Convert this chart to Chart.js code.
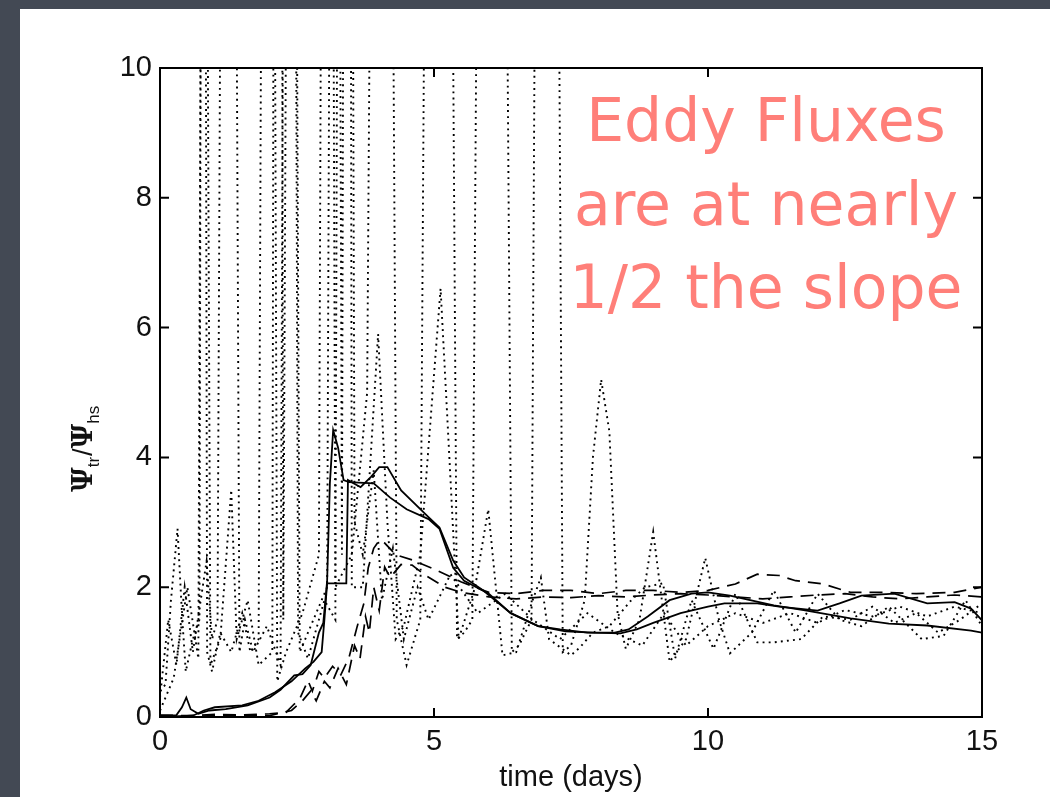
<!DOCTYPE html>
<html>
<head>
<meta charset="utf-8">
<script src="https://cdn.jsdelivr.net/npm/chart.js@4/dist/chart.umd.min.js"></script>
<style>
  html, body { margin: 0; padding: 0; }
  body { width: 1050px; height: 797px; background: #434954; position: relative; overflow: hidden; }
  #panel { position: absolute; left: 20px; top: 9px; width: 1030px; height: 788px; background: #ffffff; }
  #c { position: absolute; left: 0; top: 0; }
</style>
</head>
<body>
<div id="panel"></div>
<canvas id="c" width="1050" height="797"></canvas>
<script>
// ---- tick labels ----
const xTicks = [0, 5, 10, 15];
const yTicks = [0, 2, 4, 6, 8, 10];
const xTitle = 'time (days)';
const noteLines = ['Eddy Fluxes', 'are at nearly', '1/2 the slope'];

// ---- solid line 1 ----
const solid1T = [0.00,0.30,0.40,0.48,0.56,0.70,0.90,1.20,1.60,2.00,2.20,2.45,2.60,2.75,2.90,2.98,3.05,3.10,3.16,3.25,3.35,3.45,3.90,4.20,4.50,4.90,5.10,5.35,5.55,6.00,6.40,6.90,7.30,7.80,8.30,8.55,8.90,9.30,9.70,10.00,10.40,11.20,11.80,12.60,13.30,14.00,14.80,15.00];
const solid1V = [0.02,0.03,0.15,0.30,0.12,0.05,0.10,0.12,0.18,0.30,0.42,0.64,0.66,0.80,1.30,1.45,2.10,3.60,4.42,4.15,3.65,3.62,3.60,3.38,3.20,3.05,2.90,2.30,2.10,1.90,1.60,1.40,1.35,1.30,1.30,1.35,1.55,1.80,1.90,1.92,1.87,1.72,1.64,1.52,1.44,1.41,1.33,1.30];

// ---- solid line 2 ----
const solid2T = [0.00,0.60,0.80,1.00,1.50,1.80,2.10,2.40,2.65,2.80,2.95,3.00,3.05,3.40,3.43,3.66,3.85,4.00,4.15,4.40,4.90,5.10,5.35,5.55,5.90,6.40,6.90,7.40,7.90,8.40,8.70,9.00,9.50,10.00,10.30,10.90,11.30,12.00,12.40,12.80,13.40,14.00,14.50,14.80,15.00];
const solid2V = [0.00,0.02,0.10,0.15,0.18,0.25,0.38,0.55,0.75,0.85,1.00,1.50,2.06,2.06,3.65,3.54,3.70,3.85,3.85,3.49,3.08,2.92,2.41,2.15,1.95,1.60,1.40,1.32,1.30,1.29,1.35,1.45,1.60,1.70,1.75,1.75,1.70,1.64,1.75,1.87,1.90,1.75,1.77,1.67,1.49];

// ---- dashed line 1 ----
const dash1T = [0.00,0.50,1.00,1.50,2.00,2.30,2.45,2.55,2.70,2.78,2.90,3.00,3.15,3.30,3.45,3.60,3.72,3.80,3.90,4.00,4.10,4.30,4.60,5.00,5.50,6.00,6.50,7.00,7.50,8.00,8.50,9.00,9.50,10.00,10.50,10.90,11.30,11.60,12.10,12.60,13.20,13.80,14.50,15.00];
const dash1V = [0.03,0.02,0.04,0.03,0.05,0.07,0.20,0.28,0.56,0.40,0.70,0.60,0.78,0.65,0.92,1.40,1.75,2.30,2.60,2.72,2.68,2.50,2.42,2.28,2.08,1.92,1.90,1.95,1.95,1.90,1.95,1.95,1.92,1.95,2.05,2.20,2.18,2.10,2.05,1.92,1.92,1.90,1.92,2.00];

// ---- dashed line 2 ----
const dash2T = [0.00,1.00,2.00,2.40,2.60,2.75,2.85,3.00,3.10,3.25,3.40,3.55,3.65,3.75,3.82,3.90,4.00,4.10,4.20,4.40,4.60,4.85,5.20,5.50,6.00,6.50,7.00,7.50,8.00,8.50,9.00,9.50,10.00,10.50,11.00,11.50,12.00,12.50,13.00,13.50,14.00,14.50,15.00];
const dash2V = [0.00,0.02,0.02,0.10,0.25,0.40,0.25,0.55,0.45,0.75,0.50,1.10,0.90,1.55,1.30,2.00,1.64,2.31,2.15,2.35,2.34,2.18,2.00,1.92,1.85,1.82,1.85,1.84,1.87,1.85,1.88,1.90,1.88,1.85,1.82,1.85,1.88,1.90,1.85,1.82,1.85,1.88,1.85];

// ---- dotted line 1 ----
const dot1T = [0.00,0.10,0.20,0.32,0.40,0.47,0.60,0.72,0.79,0.86,0.95,1.10,1.30,1.50,1.65,1.80,1.98,2.14,2.30,2.60,2.90,3.06,3.20,3.50,3.78,4.06,4.32,4.50,4.75,5.08,5.42,5.55,5.70,6.05,6.42,6.55,6.78,7.05,7.35,7.50,7.75,7.90,8.05,8.20,8.35,8.50,8.75,9.00,9.30,9.60,9.95,10.20,10.40,10.80,11.20,11.60,12.00,12.40,12.80,13.30,13.90,14.30,14.70,15.00];
const dot1V = [0.40,0.50,1.80,2.90,1.60,0.70,1.20,1.50,30,1.00,0.70,1.30,1.00,1.60,1.00,1.20,40,0.55,1.00,1.60,2.50,40,2.00,2.50,5.00,40,1.50,0.80,1.50,45,1.20,1.30,1.50,45,1.00,1.10,1.50,45,1.00,1.10,1.80,4.00,5.20,4.40,1.60,1.05,1.50,2.85,0.85,1.20,2.45,1.50,0.98,1.30,1.95,1.30,1.90,1.50,1.40,1.70,1.20,1.25,1.80,1.40];

// ---- dotted line 2 ----
const dot2T = [0.00,0.15,0.30,0.45,0.60,0.85,0.95,1.05,1.25,1.45,1.55,1.70,1.95,2.20,2.37,2.52,2.70,3.00,3.20,3.40,3.50,3.70,3.98,4.15,4.30,4.45,4.75,5.12,5.25,5.45,5.75,5.99,6.25,6.50,6.80,6.95,7.10,7.50,7.66,7.90,8.20,8.60,8.85,9.18,9.40,9.70,10.10,10.50,10.90,11.20,11.70,12.10,12.60,13.00,13.40,13.80,14.20,14.60,15.00];
const dot2V = [0.30,1.50,0.80,2.00,1.00,2.40,1.20,1.50,40,1.00,1.50,1.00,1.40,0.80,40,1.30,0.90,1.80,1.50,60,2.00,2.00,5.90,3.00,1.20,1.40,2.50,6.60,4.50,1.20,2.00,3.20,0.95,1.00,1.80,2.15,1.20,0.95,1.07,1.30,1.40,1.80,2.00,2.06,0.90,1.80,1.05,1.90,1.15,1.15,1.20,1.55,1.50,1.70,1.45,1.60,1.30,1.50,1.75];

// ---- dotted line 3 ----
const dot3T = [0.00,0.25,0.50,0.70,0.80,0.92,1.10,1.30,1.40,1.60,1.80,2.05,2.15,2.25,2.40,2.55,2.80,3.05,3.20,3.32,3.42,3.55,3.70,3.90,4.05,4.25,4.45,4.70,4.90,5.30,5.80,6.30,6.80,7.30,7.80,8.30,8.80,9.20,9.60,10.00,10.50,11.00,11.50,12.00,12.50,13.00,13.50,14.00,14.50,15.00];
const dot3V = [0.10,0.60,2.00,0.90,25,0.80,1.20,3.50,1.20,1.80,0.80,1.00,50,1.50,30,1.00,1.50,2.00,35,2.50,40,3.00,2.50,3.80,1.80,2.60,1.20,2.00,1.50,2.20,1.60,1.90,1.50,1.20,1.60,1.30,1.10,1.60,1.10,1.40,1.60,1.45,1.60,1.45,1.65,1.55,1.70,1.55,1.70,1.60];

const toPts = (ts, vs) => ts.map((t, i) => ({ x: t, y: vs[i] }));

const FONT = "'Liberation Sans', Arial, Helvetica, sans-serif";
const INK = '#111';

const framePlugin = {
  id: 'frame',
  afterDatasetsDraw(chart) {
    const { ctx, chartArea: a, scales } = chart;
    ctx.save();
    ctx.strokeStyle = '#000';
    ctx.lineWidth = 2;
    ctx.strokeRect(a.left, a.top, a.right - a.left, a.bottom - a.top);
    const L = 9;
    ctx.beginPath();
    scales.x.ticks.forEach(tk => {
      const px = scales.x.getPixelForValue(tk.value);
      ctx.moveTo(px, a.bottom); ctx.lineTo(px, a.bottom - L);
      ctx.moveTo(px, a.top); ctx.lineTo(px, a.top + L);
    });
    scales.y.ticks.forEach(tk => {
      const py = scales.y.getPixelForValue(tk.value);
      ctx.moveTo(a.left, py); ctx.lineTo(a.left + L, py);
      ctx.moveTo(a.right, py); ctx.lineTo(a.right - L, py);
    });
    ctx.stroke();

    // annotation
    ctx.fillStyle = '#ff7f79';
    ctx.font = "60px 'DejaVu Sans', sans-serif";
    ctx.textAlign = 'center';
    ctx.textBaseline = 'alphabetic';
    const cx = 766;
    const baselines = [141, 225, 308];
    noteLines.forEach((s, i) => ctx.fillText(s, cx, baselines[i]));

    // y axis label  Psi_tr / Psi_hs (rotated)
    ctx.translate(92, 492);
    ctx.rotate(-Math.PI / 2);
    ctx.fillStyle = INK;
    ctx.textAlign = 'left';
    let x = 0;
    const big = "bold 27px 'DejaVu Serif', serif";
    const small = "17px " + FONT;
    const parts = [['\u03A8', big, 0], ['tr', small, 7], ['/', "27px " + FONT, 0], ['\u03A8', big, 0], ['hs', small, 7]];
    parts.forEach(([s, f, dy]) => {
      ctx.font = f;
      ctx.fillText(s, x, dy);
      x += ctx.measureText(s).width + (dy ? 1 : 0);
    });
    ctx.restore();
  }
};

const solidStyle = { borderColor: '#000', borderWidth: 1.8, pointRadius: 0, tension: 0, fill: false };
const dashStyle = { borderColor: '#000', borderWidth: 1.7, borderDash: [13, 8], pointRadius: 0, tension: 0, fill: false };
const dotStyle = { borderColor: '#000', borderWidth: 1.9, borderDash: [1.9, 4.2], pointRadius: 0, tension: 0, fill: false };

new Chart(document.getElementById('c'), {
  type: 'line',
  data: {
    datasets: [
      Object.assign({ label: 'dotted 1', data: toPts(dot1T, dot1V) }, dotStyle),
      Object.assign({ label: 'dotted 2', data: toPts(dot2T, dot2V) }, dotStyle),
      Object.assign({ label: 'dotted 3', data: toPts(dot3T, dot3V) }, dotStyle),
      Object.assign({ label: 'dashed 1', data: toPts(dash1T, dash1V) }, dashStyle),
      Object.assign({ label: 'dashed 2', data: toPts(dash2T, dash2V) }, dashStyle),
      Object.assign({ label: 'solid 1', data: toPts(solid1T, solid1V) }, solidStyle),
      Object.assign({ label: 'solid 2', data: toPts(solid2T, solid2V) }, solidStyle)
    ]
  },
  options: {
    responsive: false,
    animation: false,
    devicePixelRatio: 1,
    layout: { padding: { left: 0, top: 68, right: 68, bottom: 0 } },
    plugins: { legend: { display: false }, tooltip: { enabled: false } },
    scales: {
      x: {
        type: 'linear', min: 0, max: 15,
        afterBuildTicks: s => { s.ticks = xTicks.map(v => ({ value: v })); },
        afterFit: s => { s.height = 80; },
        grid: { display: false, drawTicks: false },
        border: { display: false },
        ticks: { color: INK, font: { family: FONT, size: 29 }, padding: 8, maxRotation: 0, autoSkip: false },
        title: { display: true, text: xTitle, color: INK, font: { family: FONT, size: 29 }, padding: { top: 0, bottom: 2 } }
      },
      y: {
        type: 'linear', min: 0, max: 10,
        afterBuildTicks: s => { s.ticks = yTicks.map(v => ({ value: v })); },
        afterFit: s => { s.width = 160; },
        grid: { display: false, drawTicks: false },
        border: { display: false },
        ticks: { color: INK, font: { family: FONT, size: 29 }, padding: 8 }
      }
    }
  },
  plugins: [framePlugin]
});
</script>
</body>
</html>
